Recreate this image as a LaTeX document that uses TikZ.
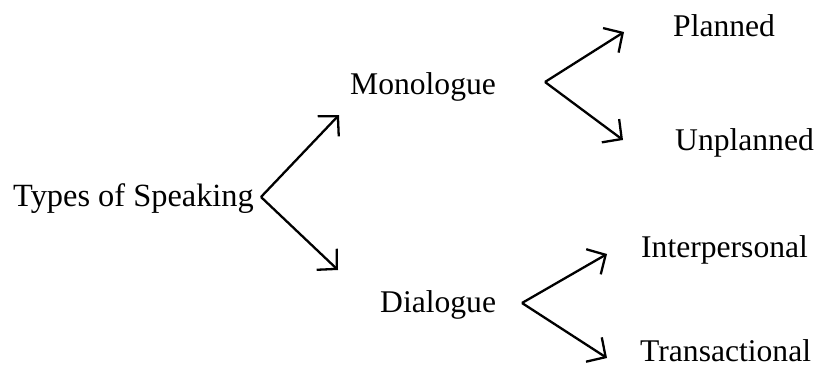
\documentclass[tikz,border=0pt]{standalone}
\usepackage{fontspec}
\setmainfont{Liberation Serif}
\usetikzlibrary{arrows.meta}
\begin{document}
\begin{tikzpicture}[x=1pt,y=-1pt,
  lbl/.style={anchor=base west,inner sep=0pt,font=\fontsize{31.6}{38}\selectfont},
  arr/.style={line width=2.3pt,-{Straight Barb[length=14pt,width=29pt,line width=2.3pt]}}]
\useasboundingbox (0,0) rectangle (819,369);
\node[lbl,font=\fontsize{32.4}{38}\selectfont] (tos) at (13,206) {Types of Speaking};
\node[lbl] (mono) at (350,95) {Monologue};
\node[lbl] (dia) at (380,312) {Dialogue};
\node[lbl] (plan) at (673,37) {Planned};
\node[lbl] (unplan) at (675,150) {Unplanned};
\node[lbl] (inter) at (641,257) {Interpersonal};
\node[lbl] (trans) at (640,361) {Transactional};
\coordinate (f0) at (261,197);
\coordinate (t1) at (339,115);
\coordinate (t2) at (338,270);
\coordinate (f1) at (545,82);
\coordinate (t3) at (624,32);
\coordinate (t4) at (623,140);
\coordinate (f2) at (522,303);
\coordinate (t5) at (607,254);
\coordinate (t6) at (607,358);
\draw[arr] (f0) -- (t1);
\draw[arr] (f0) -- (t2);
\draw[arr] (f1) -- (t3);
\draw[arr] (f1) -- (t4);
\draw[arr] (f2) -- (t5);
\draw[arr] (f2) -- (t6);
\end{tikzpicture}
\end{document}
